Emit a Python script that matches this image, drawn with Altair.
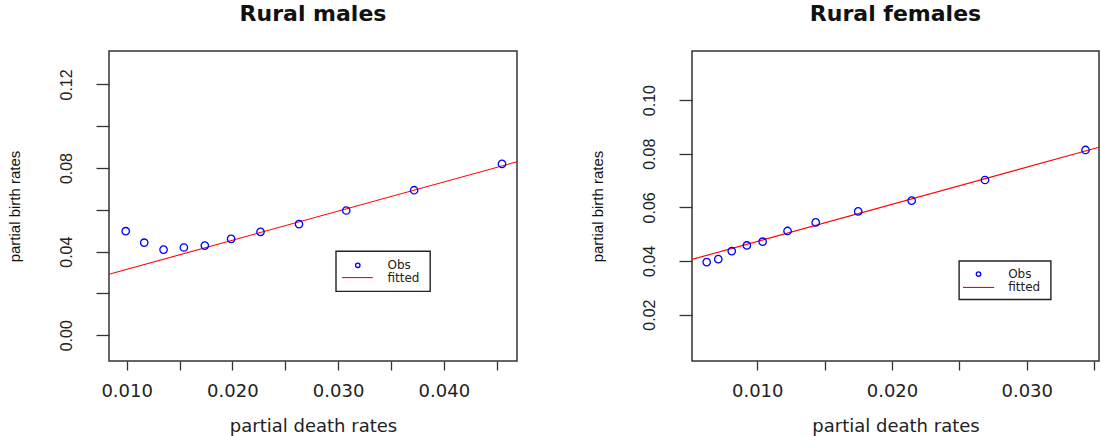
import altair as alt
import pandas as pd

# ---------------- data ----------------
# Rural males
male_death = [0.00991, 0.01166, 0.01349, 0.01541, 0.01739, 0.01988, 0.02266, 0.02630, 0.03077, 0.03719, 0.04550]
male_birth = [0.0498, 0.0443, 0.0410, 0.0420, 0.0429, 0.0461, 0.0495, 0.0532, 0.0597, 0.0694, 0.0820]
male_fit_x = [0.00833, 0.04692]
male_fit_y = [0.0292, 0.0830]

# Rural females
female_death = [0.00625, 0.00711, 0.00811, 0.00923, 0.01040, 0.01225, 0.01434, 0.01749, 0.02146, 0.02690, 0.03436]
female_birth = [0.0396, 0.0407, 0.0437, 0.0458, 0.0472, 0.0512, 0.0544, 0.0585, 0.0625, 0.0702, 0.0814]
female_fit_x = [0.00516, 0.03536]
female_fit_y = [0.0406, 0.0824]

# axes
male_xdomain = [0.00833, 0.04692]
male_ydomain = [-0.0123, 0.1360]
male_xticks = [0.010, 0.015, 0.020, 0.025, 0.030, 0.035, 0.040, 0.045]
male_xlabels = ["0.010", "0.020", "0.030", "0.040"]
male_yticks = [0.00, 0.02, 0.04, 0.06, 0.08, 0.10, 0.12]
male_ylabels = ["0.00", "0.04", "0.08", "0.12"]

female_xdomain = [0.00516, 0.03536]
female_ydomain = [0.00272, 0.1183]
female_xticks = [0.010, 0.015, 0.020, 0.025, 0.030, 0.035]
female_xlabels = ["0.010", "0.020", "0.030"]
female_yticks = [0.02, 0.04, 0.06, 0.08, 0.10]
female_ylabels = ["0.02", "0.04", "0.06", "0.08", "0.10"]

# legend placement (data coordinates, as in R's legend(x, y))
legend_labels = ["Obs", "fitted"]
male_legend = dict(box=(0.02980, 0.03871, 0.0402, 0.0210), sym_x=0.03186, obs_y=0.0335,
                   line_x=(0.03037, 0.03328), fit_y=0.0276, text_x=0.03467)
female_legend = dict(box=(0.02498, 0.03179, 0.0400, 0.02567), sym_x=0.02642, obs_y=0.03515,
                     line_x=(0.02527, 0.02758), fit_y=0.03015, text_x=0.02862)

TEXT = "#222222"
AXIS = "#333333"


def label_expr(labels):
    arr = ",".join("'%s'" % s for s in labels)
    return "indexof([%s], datum.label) >= 0 ? datum.label : ''" % arr


def panel(title, dx, dy, fx, fy, xdom, ydom, xt, xl, yt, yl, leg, width):
    xs = alt.Scale(domain=xdom, nice=False, zero=False)
    ys = alt.Scale(domain=ydom, nice=False, zero=False)
    xaxis = alt.Axis(values=xt, format=".3f", labelExpr=label_expr(xl), grid=False, domain=False,
                     tickSize=9, tickColor=AXIS, tickWidth=1.3, labelFont="DejaVu Sans",
                     labelFontSize=18, labelColor=TEXT, labelPadding=12, labelFlush=False,
                     labelOverlap=False, title="partial death rates", titleFont="DejaVu Sans",
                     titleFontSize=18, titleFontWeight="normal", titleColor=TEXT, titlePadding=17)
    yaxis = alt.Axis(values=yt, format=".2f", labelExpr=label_expr(yl), grid=False, domain=False,
                     tickSize=13, tickColor=AXIS, tickWidth=1.3, labelFont="Liberation Sans",
                     labelFontSize=16, labelColor=TEXT, labelAngle=270, labelAlign="center",
                     labelBaseline="alphabetic", labelPadding=25, labelFlush=False,
                     labelOverlap=False, title="partial birth rates", titleFont="Liberation Sans",
                     titleFontSize=15, titleFontWeight="normal", titleColor="#111111",
                     titlePadding=36)
    X = alt.X("x:Q", scale=xs, axis=xaxis)
    Y = alt.Y("y:Q", scale=ys, axis=yaxis)

    obs = pd.DataFrame({"x": dx, "y": dy})
    fit = pd.DataFrame({"x": fx, "y": fy})
    b = leg["box"]
    box = pd.DataFrame({"x": [b[0]], "x2": [b[1]], "y": [b[2]], "y2": [b[3]]})
    lsym = pd.DataFrame({"x": [leg["sym_x"]], "y": [leg["obs_y"]]})
    lline = pd.DataFrame({"x": [leg["line_x"][0]], "x2": [leg["line_x"][1]], "y": [leg["fit_y"]]})
    ltext = pd.DataFrame({"x": [leg["text_x"]] * 2, "y": [leg["obs_y"], leg["fit_y"]],
                          "t": legend_labels})

    line = alt.Chart(fit).mark_line(color="#ff0000", strokeWidth=1.1, clip=True).encode(x=X, y=Y)
    pts = alt.Chart(obs).mark_point(shape="circle", filled=False, color="#0000ff", size=55,
                                    strokeWidth=1.3, opacity=1).encode(x=X, y=Y)
    lbox = alt.Chart(box).mark_rect(fill="white", stroke="#222222", strokeWidth=1.4).encode(
        x=X, x2="x2:Q", y=Y, y2="y2:Q")
    lpt = alt.Chart(lsym).mark_point(shape="circle", filled=False, color="#0000ff", size=20,
                                     strokeWidth=1.3, opacity=1).encode(x=X, y=Y)
    lln = alt.Chart(lline).mark_rule(color="#ff0000", strokeWidth=1.1).encode(x=X, x2="x2:Q", y=Y)
    ltx = alt.Chart(ltext).mark_text(align="left", baseline="middle", font="DejaVu Sans",
                                     fontSize=12, color=TEXT).encode(x=X, y=Y, text="t:N")

    return alt.layer(line, pts, lbox, lpt, lln, ltx).properties(
        width=width, height=310,
        title=alt.TitleParams(title, font="DejaVu Sans", fontSize=22, fontWeight="bold",
                              color="#111111", anchor="middle", baseline="alphabetic", offset=8),
    )


left = panel("Rural males", male_death, male_birth, male_fit_x, male_fit_y, male_xdomain,
             male_ydomain, male_xticks, male_xlabels, male_yticks, male_ylabels, male_legend, 408)
right = panel("Rural females", female_death, female_birth, female_fit_x, female_fit_y,
              female_xdomain, female_ydomain, female_xticks, female_xlabels, female_yticks,
              female_ylabels, female_legend, 407)

chart = alt.hconcat(left, right, spacing=71).properties(
    padding={"left": 6, "top": 2, "right": 0, "bottom": 0},
    background="white",
).configure_view(stroke=AXIS, strokeWidth=1.5)

chart.save("out.html", embed_options={"renderer": "svg", "actions": False})
